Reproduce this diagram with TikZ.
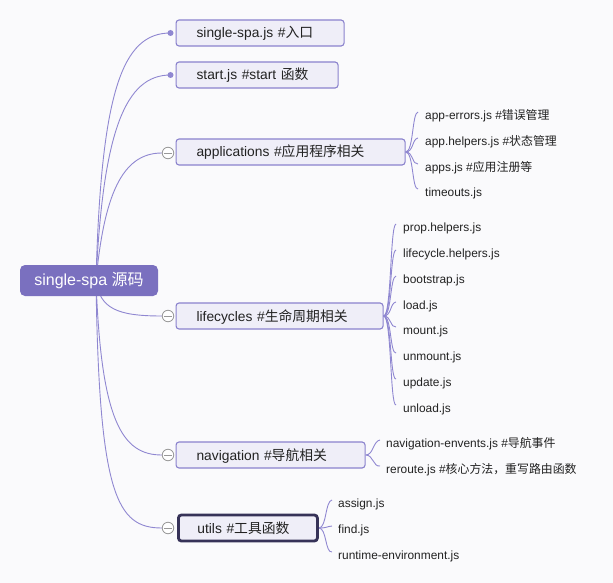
\documentclass[tikz,border=0pt]{standalone}
\usepackage{fontspec}
\setmainfont{Liberation Sans}
\newfontfamily\cjk{Noto Sans CJK SC}
\newcommand{\zh}[1]{{\cjk #1}}
\usetikzlibrary{calc}
\pgfdeclarelayer{bglayer}
\pgfdeclarelayer{edgelayer}
\pgfsetlayers{bglayer,edgelayer,main}
\definecolor{bgc}{HTML}{FAFAFC}
\definecolor{linec}{HTML}{8F87D1}
\definecolor{nodefill}{HTML}{EFEEF8}
\definecolor{nodeborder}{HTML}{8A82CD}
\definecolor{rootfill}{HTML}{7A70BF}
\definecolor{darkborder}{HTML}{363258}
\definecolor{txt}{HTML}{222222}
\definecolor{togglec}{HTML}{999999}
\tikzset{
  rootbox/.style={draw=none, fill=rootfill, rounded corners=5, text=white,
    font=\fontsize{16}{18}\selectfont, minimum width=138, minimum height=31, inner sep=0},
  topicbox/.style={draw=nodeborder, line width=1.1, fill=nodefill, rounded corners=3,
    text=txt, font=\fontsize{13.8}{16}\selectfont, minimum height=26, inner xsep=20.5,
    inner ysep=0, align=left, anchor=west, text height=10, text depth=0},
  leaf/.style={text=txt, font=\fontsize{11.9}{14}\selectfont, inner sep=0, anchor=west,
    text height=8.6, text depth=0},
  conn/.style={draw=linec, line width=0.9},
  toggle/.style={circle, draw=togglec, fill=white, line width=0.8, minimum size=11.5, inner sep=0,
    path picture={\draw[togglec, line width=0.8] ([xshift=-4]path picture bounding box.center) -- ([xshift=4]path picture bounding box.center);}},
  dotmark/.style={circle, fill=linec, minimum size=6, inner sep=0},
}
\begin{document}
\begin{tikzpicture}[x=1pt,y=-1pt]
\begin{pgfonlayer}{bglayer}
\fill[bgc] (0,0) rectangle (613,583);
\end{pgfonlayer}
\useasboundingbox (0,0) rectangle (613,583);

% root
\node[rootbox] (root) at (89,280.5) {single-spa \zh{源码}};

% level 1 topics
\node[topicbox, text width=127] (n1) at (175.5,33) {single-spa.js \#\zh{入口}};
\node[topicbox, text width=121] (n2) at (175.5,75) {start.js \#start \zh{函数}};
\node[topicbox, text width=188] (n3) at (175.5,152) {applications \#\zh{应用程序相关}};
\node[topicbox, text width=166] (n4) at (175.5,316) {lifecycles \#\zh{生命周期相关}};
\node[topicbox, text width=148] (n5) at (175.5,455) {navigation \#\zh{导航相关}};
\node[topicbox, draw=darkborder, line width=2.8, inner xsep=19, text width=101] (n6) at (177,528) {utils \#\zh{工具函数}};

% markers
\node[dotmark] (d1) at (170.5,33) {};
\node[dotmark] (d2) at (170.5,75) {};
\node[toggle] (t3) at (168,153) {};
\node[toggle] (t4) at (168,316) {};
\node[toggle] (t5) at (168,455) {};
\node[toggle] (t6) at (168,528) {};

% children of applications
\node[leaf] (a1) at (425,115) {app-errors.js \#\zh{错误管理}};
\node[leaf] (a2) at (425,141) {app.helpers.js \#\zh{状态管理}};
\node[leaf] (a3) at (425,167) {apps.js \#\zh{应用注册等}};
\node[leaf] (a4) at (425,192) {timeouts.js};

% children of lifecycles
\node[leaf] (b1) at (403,227) {prop.helpers.js};
\node[leaf] (b2) at (403,253) {lifecycle.helpers.js};
\node[leaf] (b3) at (403,279) {bootstrap.js};
\node[leaf] (b4) at (403,305) {load.js};
\node[leaf] (b5) at (403,330) {mount.js};
\node[leaf] (b6) at (403,356) {unmount.js};
\node[leaf] (b7) at (403,382) {update.js};
\node[leaf] (b8) at (403,408) {unload.js};

% children of navigation
\node[leaf] (c1) at (386,443) {navigation-envents.js \#\zh{导航事件}};
\node[leaf] (c2) at (386,469) {reroute.js \#\zh{核心方法，重写路由函数}};

% children of utils
\node[leaf] (e1) at (338,503) {assign.js};
\node[leaf] (e2) at (338,529) {find.js};
\node[leaf] (e3) at (338,555) {runtime-environment.js};

\begin{pgfonlayer}{edgelayer}
% root connectors
\coordinate (rs) at ($(root.center)+(7,0)$);
\draw[conn] (rs) .. controls ($(rs)+(5,-190)$) and ($(d1.center)+(-48,0)$) .. (d1.center);
\draw[conn] (rs) .. controls ($(rs)+(7,-150)$) and ($(d2.center)+(-45,0)$) .. (d2.center);
\draw[conn] (rs) .. controls ($(rs)+(8,-85)$) and ($(t3.west)+(-40,0)$) .. (t3.west);
\draw[conn] (rs) .. controls ($(rs)+(4,28)$) and ($(t4.west)+(-45,0)$) .. (t4.west);
\draw[conn] (rs) .. controls ($(rs)+(5,140)$) and ($(t5.west)+(-40,0)$) .. (t5.west);
\draw[conn] (rs) .. controls ($(rs)+(3,215)$) and ($(t6.west)+(-45,0)$) .. (t6.west);

% topic children
\foreach \c in {a1,a2,a3,a4}{
  \draw[conn] (n3.east) .. controls ($(n3.east)+(8,0)$) and ($(\c.west)+(-13,-2)$) .. ($(\c.west)+(-7,-3)$);
}
\foreach \c in {b1,b2,b3,b4,b5,b6,b7,b8}{
  \draw[conn] (n4.east) .. controls ($(n4.east)+(8,0)$) and ($(\c.west)+(-13,-2)$) .. ($(\c.west)+(-7,-3)$);
}
\foreach \c in {c1,c2}{
  \draw[conn] (n5.east) .. controls ($(n5.east)+(8,0)$) and ($(\c.west)+(-13,-2)$) .. ($(\c.west)+(-6,-3)$);
}
\foreach \c in {e1,e2,e3}{
  \draw[conn] (n6.east) .. controls ($(n6.east)+(8,0)$) and ($(\c.west)+(-13,-2)$) .. ($(\c.west)+(-6,-3)$);
}
\end{pgfonlayer}
\end{tikzpicture}
\end{document}
